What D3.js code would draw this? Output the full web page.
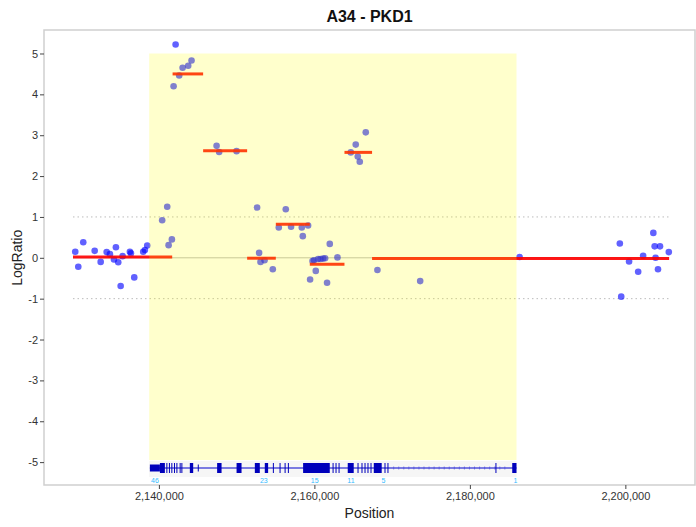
<!DOCTYPE html>
<html>
<head>
<meta charset="utf-8">
<script src="https://cdn.jsdelivr.net/npm/d3@7"></script>
<style>
  body { margin: 0; background: white; }
  text { font-family: "Liberation Sans", Arial, Helvetica, sans-serif; }
</style>
</head>
<body>
<div id="cnv_plot"></div>
<script>
// probe positions (bp) and log ratios
const positions = [2129240, 2129630, 2130270, 2131740, 2132510, 2133280, 2133700, 2134220, 2134470, 2134770,
    2135080, 2135330, 2136270, 2136400, 2136830, 2137980, 2138200, 2138500, 2140420, 2141070,
    2141250, 2141670, 2141890, 2142150, 2142610, 2143050, 2143770, 2144200, 2147420, 2147750,
    2149990, 2152630, 2152890, 2153070, 2153590, 2154650, 2155420, 2156320, 2157000, 2158380,
    2158510, 2159190, 2159450, 2159760, 2159960, 2160180, 2160480, 2160780, 2161120, 2161380,
    2161630, 2161980, 2162970, 2164680, 2165320, 2165580, 2165840, 2166610, 2168110, 2173610,
    2186400, 2199290, 2199470, 2200480, 2201650, 2202290, 2203600, 2203770, 2203890, 2204200,
    2204460, 2205590];
const logRatios = [0.15, -0.22, 0.38, 0.17, -0.10, 0.14, 0.09, -0.04, 0.26, -0.11,
    -0.69, 0.04, 0.15, 0.11, -0.48, 0.15, 0.19, 0.30, 0.92, 1.25,
    0.31, 0.45, 4.20, 5.22, 4.46, 4.65, 4.70, 4.83, 2.74, 2.59,
    2.61, 1.23, 0.12, -0.10, -0.06, -0.28, 0.74, 1.19, 0.76, 0.74,
    0.53, 0.79, -0.53, -0.08, -0.06, -0.32, -0.03, -0.03, -0.02, -0.01,
    -0.61, 0.34, 0.01, 2.58, 2.77, 2.48, 2.35, 3.07, -0.30, -0.57,
    0.02, 0.35, -0.95, -0.09, -0.34, 0.05, 0.61, 0.28, 0.00, -0.28,
    0.28, 0.14];

// segmentation
const segStarts = [2128950, 2141760, 2145690, 2151350, 2155040, 2159410, 2163870, 2167420];
const segEnds = [2141710, 2145690, 2151350, 2155040, 2159410, 2163870, 2167420, 2205630];
const segValues = [0.02, 4.50, 2.62, -0.01, 0.82, -0.16, 2.58, -0.02];

// PKD1 gene model
const geneStart = 2138750, geneEnd = 2186000;
const exonStarts = [2138840, 2140130, 2140960, 2141290, 2141600, 2141940, 2142250, 2142670, 2142890, 2143980,
    2145000, 2147490, 2149990, 2152340, 2153620, 2154660, 2155520, 2156170, 2156590, 2158550,
    2162340, 2162720, 2163110, 2164290, 2165550, 2166060, 2166450, 2166830, 2167220, 2167640,
    2169020, 2169400, 2183290, 2185450];
const exonEnds = [2140130, 2140770, 2141030, 2141360, 2141670, 2142010, 2142320, 2142740, 2142960, 2144410,
    2145100, 2148060, 2150630, 2152980, 2154050, 2154730, 2155590, 2156240, 2156660, 2161980,
    2162410, 2162790, 2163180, 2165060, 2165620, 2166130, 2166520, 2166900, 2167290, 2168660,
    2169090, 2169470, 2183360, 2186000];
const exonUtr = [true, false, false, false, false, false, false, false, false, false,
    true, false, false, false, false, false, false, false, false, false,
    false, false, false, false, false, false, false, false, false, false,
    false, false, false, false];
const exonLabels = ["46", "23", "15", "11", "5", "1"];
const exonLabelPos = [2139500, 2153500, 2160050, 2164700, 2168900, 2185850];

const xTicks = [2140000, 2160000, 2180000, 2200000];
const yTicks = [5, 4, 3, 2, 1, 0, -1, -2, -3, -4, -5];

const margin = {top: 30, right: 1, bottom: 42, left: 44},
    width = 696 - margin.left - margin.right,
    height = 527 - margin.top - margin.bottom;

const svg = d3.select("#cnv_plot")
    .append("svg")
    .attr("width", 696)
    .attr("height", 527);

const g = svg.append("g")
    .attr("transform", "translate(" + margin.left + "," + margin.top + ")");

const x = d3.scaleLinear()
    .domain([2125220, 2208960])
    .range([0, width]);
const y = d3.scaleLinear()
    .domain([-5.56, 5.575])
    .range([height, 0]);

// threshold lines
const dataMin = segStarts[0], dataMax = segEnds[segEnds.length - 1];
[1, -1].forEach(v => {
    g.append("line")
        .attr("x1", x(dataMin)).attr("x2", x(dataMax))
        .attr("y1", y(v)).attr("y2", y(v))
        .attr("stroke", "#bbbbbb")
        .attr("stroke-width", 1)
        .attr("stroke-dasharray", "1.5,3");
});
g.append("line")
    .attr("x1", x(dataMin)).attr("x2", x(dataMax))
    .attr("y1", y(0)).attr("y2", y(0))
    .attr("stroke", "#bdbdbd")
    .attr("stroke-width", 1);

// points
const points = positions.map((p, i) => [p, logRatios[i]]);
g.selectAll("myPoints")
    .data(points)
    .join("circle")
    .attr("cx", d => x(d[0]))
    .attr("cy", d => y(d[1]))
    .attr("r", 3.3)
    .attr("fill", "#0000ff")
    .attr("opacity", 0.62);

// segments
const segs = segStarts.map((s, i) => ({s: s, e: segEnds[i], v: segValues[i]}));
g.selectAll("mySegs")
    .data(segs)
    .join("line")
    .attr("x1", d => x(d.s))
    .attr("x2", d => x(d.e))
    .attr("y1", d => y(d.v))
    .attr("y2", d => y(d.v))
    .attr("stroke", "#ff0000")
    .attr("stroke-width", 3)
    .attr("opacity", 0.9);

// gene highlight, translucent, on top of the data
g.append("rect")
    .attr("x", x(geneStart))
    .attr("y", y(5))
    .attr("width", x(geneEnd) - x(geneStart))
    .attr("height", y(-4.95) - y(5))
    .attr("fill", "#ffff00")
    .attr("fill-opacity", 0.2);

// gene track
const trackTop = height - 24, trackMid = trackTop + 7;
g.append("rect")
    .attr("x", x(geneStart))
    .attr("y", trackTop)
    .attr("width", x(geneEnd) - x(geneStart))
    .attr("height", 16)
    .attr("fill", "#f6f6f6");
g.append("line")
    .attr("x1", x(exonStarts[0])).attr("x2", x(geneEnd))
    .attr("y1", trackMid).attr("y2", trackMid)
    .attr("stroke", "#0000cc")
    .attr("stroke-width", 1);
// strand markers along the long intron
g.selectAll("myStrand")
    .data(d3.range(2170200, 2185000, 650))
    .join("line")
    .attr("x1", d => x(d)).attr("x2", d => x(d))
    .attr("y1", trackMid - 1.5).attr("y2", trackMid + 1.5)
    .attr("stroke", "#4444dd")
    .attr("stroke-width", 0.6);
const exons = exonStarts.map((s, i) => ({s: s, e: exonEnds[i], utr: exonUtr[i]}));
g.selectAll("myExons")
    .data(exons)
    .join("rect")
    .attr("x", d => x(d.s))
    .attr("width", d => Math.max(1, x(d.e) - x(d.s)))
    .attr("y", d => d.utr ? trackMid - 3.5 : trackMid - 5)
    .attr("height", d => d.utr ? 7 : 10)
    .attr("fill", "#0000bb");
g.selectAll("myExonLabels")
    .data(exonLabels)
    .join("text")
    .attr("x", (d, i) => x(exonLabelPos[i]))
    .attr("y", trackMid + 15)
    .attr("text-anchor", "middle")
    .style("font-size", "7px")
    .style("fill", "#33bbff")
    .text(d => d);

// panel border
g.append("rect")
    .attr("x", 0).attr("y", 0)
    .attr("width", width).attr("height", height)
    .attr("fill", "none")
    .attr("stroke", "#cfcfcf")
    .attr("stroke-width", 1.5);

// axes
const xAxis = g.append("g")
    .attr("transform", "translate(0," + height + ")")
    .call(d3.axisBottom(x).tickValues(xTicks).tickFormat(d3.format(",")).tickSize(4).tickPadding(3));
const yAxis = g.append("g")
    .call(d3.axisLeft(y).tickValues(yTicks).tickFormat(d => String(d)).tickSize(4).tickPadding(2));
[xAxis, yAxis].forEach(a => {
    a.select(".domain").remove();
    a.selectAll(".tick line").attr("stroke", "#444");
    a.selectAll(".tick text")
        .style("font-size", "11px")
        .style("fill", "#333")
        .style("font-family", "Liberation Sans, Arial, sans-serif");
});

// titles
svg.append("text")
    .attr("x", margin.left + width / 2)
    .attr("y", 22)
    .attr("text-anchor", "middle")
    .style("font-size", "16px")
    .style("font-weight", "bold")
    .style("fill", "#111")
    .text("A34 - PKD1");
svg.append("text")
    .attr("x", margin.left + width / 2)
    .attr("y", 518)
    .attr("text-anchor", "middle")
    .style("font-size", "14px")
    .style("fill", "#222")
    .text("Position");
svg.append("text")
    .attr("transform", "translate(22," + (margin.top + y(0)) + ") rotate(-90)")
    .attr("text-anchor", "middle")
    .style("font-size", "14px")
    .style("fill", "#222")
    .text("LogRatio");
</script>
</body>
</html>
